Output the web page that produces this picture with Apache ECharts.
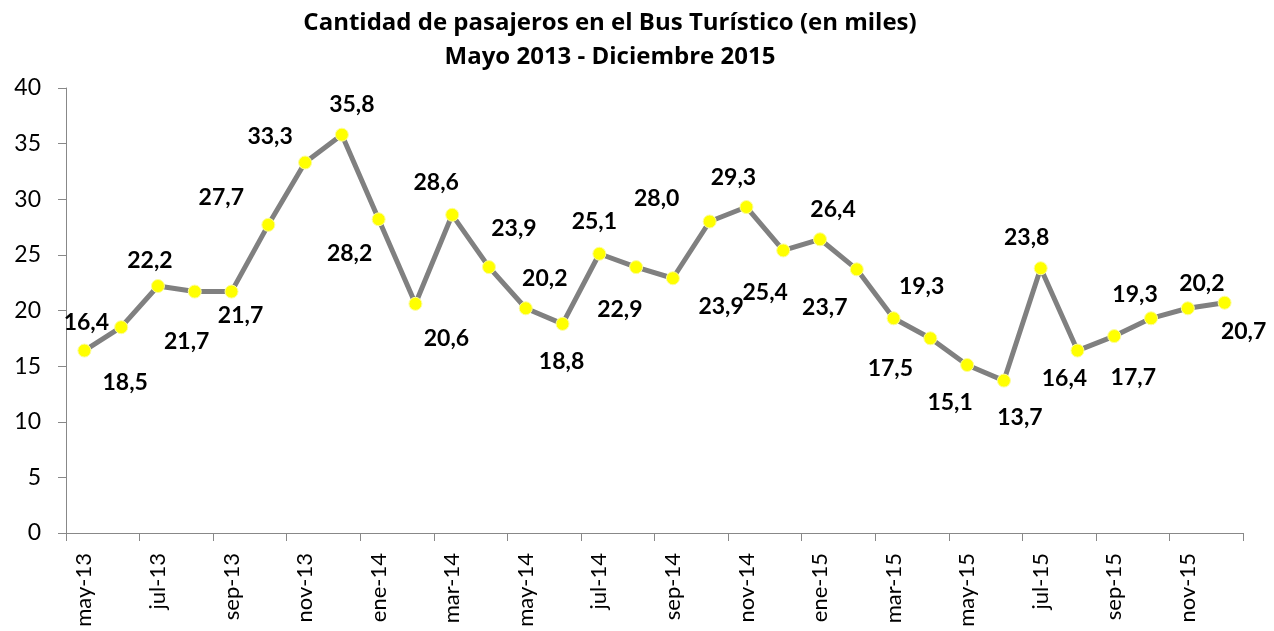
<!DOCTYPE html>
<html>
<head>
<meta charset="utf-8">
<script src="https://cdn.jsdelivr.net/npm/echarts@6/dist/echarts.min.js"></script>
<style>
  html, body { margin: 0; padding: 0; background: #fff; }
  #chart { width: 1274px; height: 631px; }
</style>
</head>
<body>
<div id="chart"></div>
<script>
// meses (mayo 2013 - diciembre 2015)
const months = [
  'may-13', 'jun-13', 'jul-13', 'ago-13', 'sep-13', 'oct-13', 'nov-13', 'dic-13',
  'ene-14', 'feb-14', 'mar-14', 'abr-14', 'may-14', 'jun-14', 'jul-14', 'ago-14',
  'sep-14', 'oct-14', 'nov-14', 'dic-14', 'ene-15', 'feb-15', 'mar-15', 'abr-15',
  'may-15', 'jun-15', 'jul-15', 'ago-15', 'sep-15', 'oct-15', 'nov-15', 'dic-15'
]

// pasajeros en miles
const passengers = [
  16.4, 18.5, 22.2, 21.7, 21.7, 27.7, 33.3, 35.8,
  28.2, 20.6, 28.6, 23.9, 20.2, 18.8, 25.1, 23.9,
  22.9, 28.0, 29.3, 25.4, 26.4, 23.7, 19.3, 17.5,
  15.1, 13.7, 23.8, 16.4, 17.7, 19.3, 20.2, 20.7
]

const yTicks = { min: 0, max: 40, step: 5 }

// desplazamiento de cada etiqueta respecto a su punto (px)
const labelOffsets = [
  [2, -28], [4, 55], [-8, -25], [-8, 50], [9, 24], [-47, -27], [-35, -26], [10, -30],
  [-29, 34], [31, 35], [-16, -32], [25, -39], [19, -30], [-1, 38], [-5, -32], [85, 39],
  [-53, 31], [-53, -23], [-13, -29], [-18, 42], [13, -30], [-32, 38], [28, -32], [-40, 30],
  [-17, 38], [16, 37], [-14, -31], [-13, 28], [19, 41], [-16, -24], [14, -25], [19, 29]
]

const FONT = 'Lato'
const chart = echarts.init(document.getElementById('chart'))

chart.setOption({
  backgroundColor: '#fff',
  animation: false,
  title: {
    text: 'Cantidad de pasajeros en el Bus Turístico (en miles)\nMayo 2013 - Diciembre 2015',
    left: 605,
    top: 1,
    textAlign: 'center',
    textStyle: {
      fontFamily: 'Open Sans',
      fontWeight: 'bold',
      fontSize: 24,
      lineHeight: 34,
      color: '#000'
    }
  },
  grid: {
    left: 66,
    right: 31,
    top: 88,
    bottom: 98
  },
  xAxis: {
    type: 'category',
    data: months,
    boundaryGap: true,
    axisLine: { lineStyle: { color: '#888', width: 1 } },
    axisTick: { show: true, interval: 1, length: 8, lineStyle: { color: '#888' } },
    axisLabel: {
      interval: 1,
      rotate: 90,
      margin: 20,
      fontFamily: FONT,
      fontSize: 22,
      color: '#000'
    },
    splitLine: { show: false }
  },
  yAxis: {
    type: 'value',
    min: yTicks.min,
    max: yTicks.max,
    interval: yTicks.step,
    axisLine: { show: true, lineStyle: { color: '#888', width: 1 } },
    axisTick: { show: true, length: 8, lineStyle: { color: '#888' } },
    axisLabel: {
      margin: 25,
      fontFamily: FONT,
      fontSize: 23,
      color: '#000'
    },
    splitLine: { show: false }
  },
  series: [{
    name: 'Pasajeros',
    type: 'line',
    symbol: 'circle',
    symbolSize: 13,
    lineStyle: { color: '#808080', width: 5 },
    itemStyle: { color: '#ffff00', borderColor: '#fdfd9a', borderWidth: 1 },
    label: {
      show: true,
      position: 'inside',
      align: 'center',
      verticalAlign: 'middle',
      fontFamily: FONT,
      fontWeight: 'bold',
      fontSize: 23,
      color: '#000',
      formatter(p) {
        return p.value.toFixed(1).replace('.', ',')
      }
    },
    data: passengers.map((v, i) => ({
      value: v,
      label: { offset: labelOffsets[i] }
    }))
  }]
})
</script>
</body>
</html>
